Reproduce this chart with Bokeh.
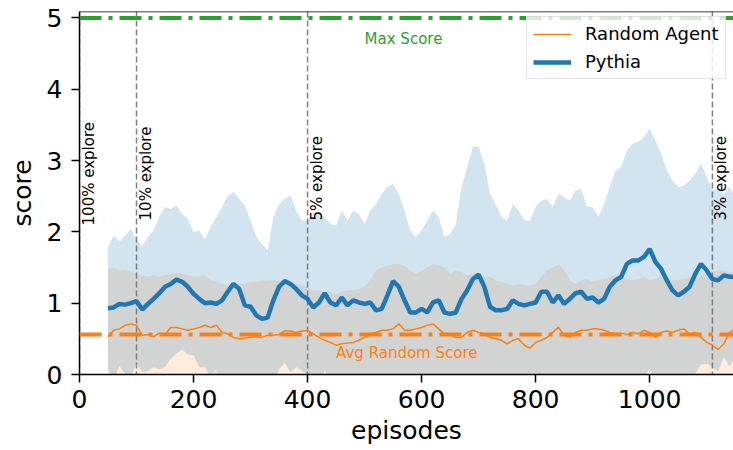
import numpy as np
from bokeh.plotting import figure
from bokeh.models import Range1d, Span, Legend, LegendItem, Label, FixedTicker
from bokeh.embed import file_html
from bokeh.resources import INLINE

# ---------------- data ----------------
episodes = list(range(50, 1160, 10))

pythia_mean = [
    0.93, 0.94, 0.99, 0.98, 1.00, 1.03, 0.91, 0.99, 1.06, 1.14,
    1.23, 1.27, 1.33, 1.30, 1.23, 1.13, 1.06, 1.00, 1.01, 0.99,
    1.04, 1.16, 1.27, 1.20, 0.97, 0.95, 0.83, 0.78, 0.80, 1.04,
    1.23, 1.31, 1.27, 1.20, 1.11, 1.06, 0.94, 1.01, 1.14, 1.01,
    0.97, 1.08, 0.97, 1.04, 1.01, 0.99, 1.01, 0.90, 0.92, 1.11,
    1.31, 1.23, 1.04, 0.87, 0.87, 0.92, 0.87, 1.01, 1.04, 0.87,
    0.85, 0.87, 1.06, 1.18, 1.34, 1.40, 1.23, 0.95, 0.90, 0.90,
    0.92, 1.04, 0.99, 0.97, 0.99, 1.01, 1.16, 1.16, 1.01, 1.11,
    0.99, 1.06, 1.14, 1.16, 1.06, 1.08, 1.01, 1.06, 1.23, 1.32,
    1.37, 1.55, 1.60, 1.60, 1.65, 1.76, 1.58, 1.48, 1.32, 1.18,
    1.11, 1.16, 1.23, 1.41, 1.55, 1.46, 1.34, 1.32, 1.39, 1.37,
    1.37,
]

pythia_upper = [
    1.79, 1.95, 1.86, 1.95, 2.04, 1.90, 1.79, 1.93, 2.02, 2.21,
    2.35, 2.32, 2.37, 2.25, 2.18, 1.99, 2.02, 1.90, 2.07, 2.21,
    2.35, 2.51, 2.56, 2.46, 2.37, 2.16, 1.93, 1.83, 1.74, 2.21,
    2.39, 2.46, 2.51, 2.30, 2.16, 2.16, 2.21, 2.25, 2.21, 2.11,
    2.09, 2.30, 2.16, 2.30, 2.25, 2.11, 2.30, 2.39, 2.53, 2.63,
    2.67, 2.53, 2.30, 2.02, 1.93, 2.02, 2.16, 2.30, 2.21, 1.93,
    1.97, 2.11, 2.63, 2.91, 3.19, 3.19, 2.96, 2.53, 2.39, 2.21,
    2.16, 2.39, 2.30, 2.16, 2.16, 2.35, 2.44, 2.46, 2.35, 2.53,
    2.49, 2.44, 2.58, 2.60, 2.35, 2.35, 2.21, 2.39, 2.63, 2.86,
    2.91, 3.14, 3.24, 3.26, 3.33, 3.45, 3.28, 3.10, 2.86, 2.72,
    2.63, 2.65, 2.72, 2.81, 2.96, 2.77, 2.58, 2.60, 2.53, 2.63,
    2.49,
]

random_mean = [
    0.53, 0.62, 0.64, 0.69, 0.71, 0.69, 0.55, 0.56, 0.53, 0.58,
    0.56, 0.66, 0.66, 0.64, 0.62, 0.64, 0.66, 0.69, 0.66, 0.69,
    0.59, 0.57, 0.52, 0.50, 0.51, 0.52, 0.53, 0.52, 0.55, 0.55,
    0.56, 0.61, 0.61, 0.59, 0.61, 0.62, 0.57, 0.52, 0.48, 0.45,
    0.41, 0.43, 0.44, 0.45, 0.48, 0.52, 0.57, 0.59, 0.62, 0.62,
    0.64, 0.71, 0.62, 0.62, 0.64, 0.66, 0.69, 0.71, 0.64, 0.57,
    0.56, 0.52, 0.52, 0.59, 0.62, 0.59, 0.57, 0.52, 0.50, 0.48,
    0.43, 0.48, 0.50, 0.41, 0.37, 0.45, 0.48, 0.52, 0.59, 0.66,
    0.55, 0.52, 0.59, 0.62, 0.62, 0.64, 0.64, 0.62, 0.59, 0.57,
    0.58, 0.56, 0.59, 0.57, 0.62, 0.59, 0.52, 0.59, 0.61, 0.59,
    0.62, 0.64, 0.57, 0.59, 0.52, 0.45, 0.41, 0.35, 0.43, 0.59,
    0.64,
]

random_upper = [
    1.48, 1.50, 1.46, 1.47, 1.44, 1.41, 1.39, 1.37, 1.39, 1.37,
    1.39, 1.41, 1.42, 1.41, 1.40, 1.37, 1.37, 1.39, 1.32, 1.30,
    1.27, 1.25, 1.25, 1.27, 1.27, 1.30, 1.30, 1.31, 1.32, 1.32,
    1.31, 1.30, 1.30, 1.27, 1.25, 1.23, 1.18, 1.18, 1.16, 1.16,
    1.13, 1.16, 1.18, 1.18, 1.20, 1.23, 1.32, 1.46, 1.50, 1.53,
    1.55, 1.55, 1.53, 1.46, 1.41, 1.46, 1.50, 1.55, 1.53, 1.50,
    1.41, 1.46, 1.44, 1.39, 1.41, 1.39, 1.37, 1.37, 1.32, 1.30,
    1.27, 1.25, 1.27, 1.25, 1.25, 1.27, 1.37, 1.46, 1.50, 1.55,
    1.46, 1.32, 1.27, 1.32, 1.34, 1.30, 1.32, 1.34, 1.37, 1.39,
    1.37, 1.34, 1.32, 1.34, 1.37, 1.32, 1.34, 1.37, 1.34, 1.32,
    1.32, 1.34, 1.37, 1.34, 1.39, 1.41, 1.44, 1.46, 1.46, 1.44,
    1.41,
]

max_score = 5.0
avg_random_score = 0.56
explore_episodes = [0, 100, 400, 1110]
explore_labels = ["100% explore", "10% explore", "5% explore", "3% explore"]
x_ticks = [0, 200, 400, 600, 800, 1000]
y_ticks = [0, 1, 2, 3, 4, 5]

# bands are mean +/- std (symmetric)
pm = np.array(pythia_mean)
pu = np.array(pythia_upper)
rm = np.array(random_mean)
ru = np.array(random_upper)
pl = 2 * pm - pu
rl = 2 * rm - ru

BLUE = "#1f77b4"
ORANGE = "#ff7f0e"
GREEN = "#2ca02c"
FONT = "DejaVu Sans"

Y_TOP = 5.09
X_END = 1147
p = figure(width=733, height=450, output_backend="svg", toolbar_location=None,
           x_range=Range1d(0, X_END), y_range=Range1d(0, Y_TOP),
           min_border_left=79, min_border_right=0, min_border_top=11,
           min_border_bottom=76, outline_line_color=None,
           background_fill_color="white", border_fill_color="white")

p.xgrid.visible = False
p.ygrid.visible = False

# bands
p.varea(x=episodes, y1=rl, y2=ru, fill_color=ORANGE, fill_alpha=0.15)
p.varea(x=episodes, y1=pl, y2=pu, fill_color=BLUE, fill_alpha=0.2)

# explore lines
for e in explore_episodes:
    p.add_layout(Span(location=e, dimension="height", line_color="gray",
                      line_width=1.5, line_dash="6 3", level="underlay"))

# mean lines
r_rand = p.line(episodes, random_mean, line_color=ORANGE, line_width=1.5)
r_pyth = p.line(episodes, pythia_mean, line_color=BLUE, line_width=4.5)

# reference levels
p.add_layout(Span(location=max_score, dimension="width", line_color=GREEN,
                  line_width=4, line_dash="22 7 4 7"))
p.add_layout(Span(location=avg_random_score, dimension="width", line_color=ORANGE,
                  line_width=4, line_dash="22 7 4 7"))
# top spine
p.add_layout(Span(location=Y_TOP, dimension="width", line_color="black", line_width=1.5))

p.add_layout(Label(x=500, y=4.7, text="Max Score", text_color=GREEN,
                   text_font=FONT, text_font_size="15px", text_baseline="alphabetic"))
p.add_layout(Label(x=450, y=0.3, text="Avg Random Score", text_color=ORANGE,
                   text_font=FONT, text_font_size="15px", text_baseline="alphabetic"))

for e, lab in zip(explore_episodes, explore_labels):
    ylab = 2.09 if lab.startswith("100") else 2.16
    p.add_layout(Label(x=e, y=ylab, text=lab, angle=90, angle_units="deg",
                       x_offset=0, text_align="left", text_baseline="top",
                       text_color="black", text_font=FONT, text_font_size="15px"))

# axes
for ax in (p.xaxis[0], p.yaxis[0]):
    ax.axis_line_width = 1.5
    ax.axis_line_color = "black"
    ax.major_tick_line_width = 1.5
    ax.major_tick_line_color = "black"
    ax.major_tick_out = 8
    ax.major_tick_in = 0
    ax.minor_tick_out = 0
    ax.minor_tick_in = 0
    ax.major_label_text_font = FONT
    ax.major_label_text_font_size = "25px"
    ax.major_label_text_color = "black"
    ax.axis_label_text_font = FONT
    ax.axis_label_text_font_size = "25px"
    ax.axis_label_text_font_style = "normal"
    ax.axis_label_text_color = "black"

p.xaxis.ticker = FixedTicker(ticks=x_ticks)
p.yaxis.ticker = FixedTicker(ticks=y_ticks)
p.xaxis.axis_label = "episodes"
p.yaxis.axis_label = "score"
p.xaxis.major_label_standoff = 7
p.yaxis.major_label_standoff = 9
p.xaxis.axis_label_standoff = 5
p.yaxis.axis_label_standoff = 7

legend = Legend(items=[LegendItem(label="Random Agent", renderers=[r_rand]),
                       LegendItem(label="Pythia", renderers=[r_pyth])],
                location=(447, 295))
legend.label_text_font = FONT
legend.label_text_font_size = "18px"
legend.label_text_color = "black"
legend.border_line_color = "#cccccc"
legend.border_line_width = 1
legend.background_fill_alpha = 0.8
legend.glyph_width = 38
legend.glyph_height = 20
legend.label_height = 20
legend.spacing = 7
legend.padding = 6
legend.label_standoff = 14
legend.margin = 0
p.add_layout(legend)

open("out.html", "w").write(file_html(p, INLINE))
